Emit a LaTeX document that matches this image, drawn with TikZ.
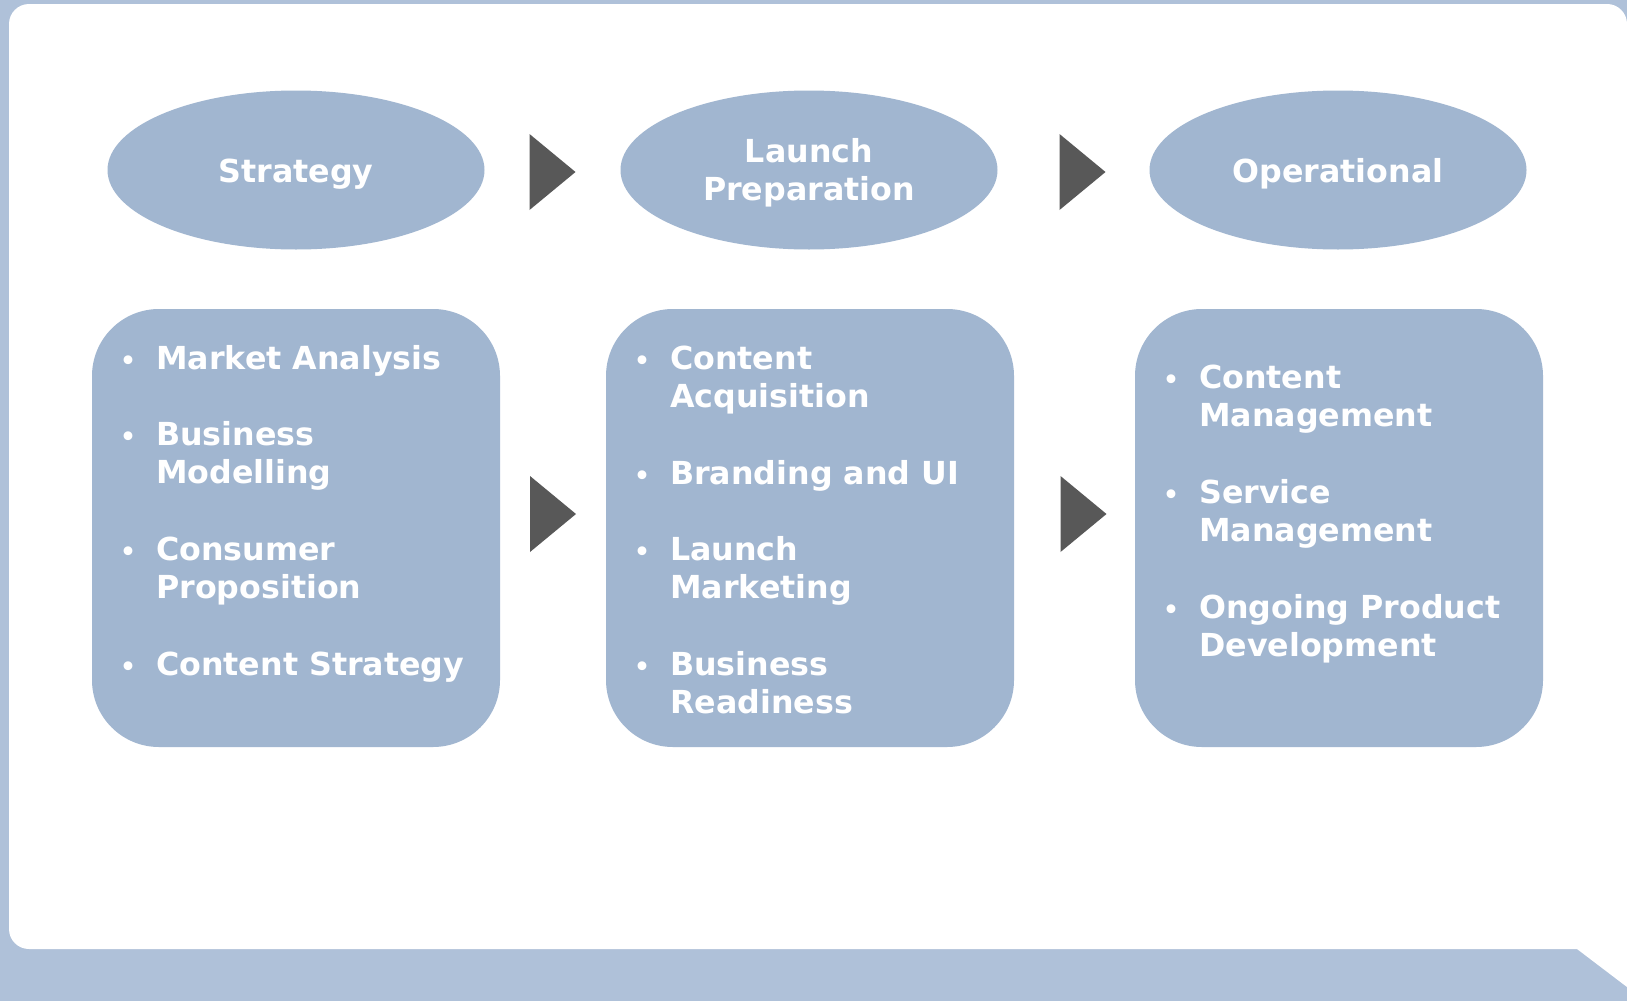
\documentclass[tikz,border=0pt]{standalone}
\usepackage{fontspec}
\setmainfont{DejaVu Sans}
\usetikzlibrary{shapes.geometric,calc}
\definecolor{bgblue}{HTML}{AFC1D9}
\definecolor{shapeblue}{HTML}{A1B6D0}
\definecolor{arrowgray}{HTML}{585858}
\newcommand\arrowtri[1]{\fill[tri] ($(#1)+(-23,-38)$) -- ($(#1)+(23,0)$) -- ($(#1)+(-23,38)$) -- cycle;}
\begin{document}
\begin{tikzpicture}[x=1pt,y=-1pt,
  phase/.style={ellipse, fill=shapeblue, minimum width=377pt, minimum height=159pt, inner sep=0pt},
  phasetext/.style={inner sep=0pt, text=white, font=\bfseries\fontsize{31.7}{38.3}\selectfont, align=center},
  panel/.style={rectangle, rounded corners=67pt, fill=shapeblue, minimum width=408pt, minimum height=438pt, inner sep=0pt},
  item/.style={anchor=base west, inner sep=0pt, text=white, font=\bfseries\fontsize{31.7}{38.3}\selectfont},
  dot/.style={anchor=base, inner sep=0pt, text=white, font=\bfseries\fontsize{25}{38.3}\selectfont},
  tri/.style={fill=arrowgray}]
\useasboundingbox (0,0) rectangle (1627,1001);
\fill[bgblue] (0,0) rectangle (1627,1001);
\fill[white] (1577,949) -- (1627,987) -- (1627,500) [rounded corners=20pt] -- (1627,4) -- (9,4) -- (9,949) [sharp corners] -- cycle;

\node[phase] (p1) at (296,170) {};
\node[phase] (p2) at (809,170) {};
\node[phase] (p3) at (1338,170) {};
\node[phasetext] (p1t) at ($(p1.center)+(0,4)$) {Strategy};
\node[phasetext] (p2t) at ($(p2.center)+(0,3)$) {Launch\\Preparation};
\node[phasetext] (p3t) at ($(p3.center)+(0,4)$) {Operational};

\node[panel] (b1) at (296,528) {};
\node[panel] (b2) at (810,528) {};
\node[panel] (b3) at (1339,528) {};

\coordinate (t1) at ($($(p1.east)!0.5!(p2.west)$)+(0,2)$);
\coordinate (t2) at ($($(p2.east)!0.5!(p3.west)$)+(9,2)$);
\coordinate (t3) at ($($(b1.east)!0.5!(b2.west)$)+(0,-14)$);
\coordinate (t4) at ($($(b2.east)!0.5!(b3.west)$)+(9,-14)$);
\arrowtri{t1}
\arrowtri{t2}
\arrowtri{t3}
\arrowtri{t4}

% left box
\node[dot] (d11) at (128,369) {•};
\node[item] (l11) at (156,369) {Market Analysis};
\node[dot] (d12) at (128,445.6) {•};
\node[item] (l12a) at (156,445.6) {Business};
\node[item] (l12b) at (156,483.9) {Modelling};
\node[dot] (d13) at (128,560.5) {•};
\node[item] (l13a) at (156,560.5) {Consumer};
\node[item] (l13b) at (156,598.8) {Proposition};
\node[dot] (d14) at (128,675.4) {•};
\node[item] (l14) at (156,675.4) {Content Strategy};

% middle box
\node[dot] (d21) at (642,369) {•};
\node[item] (l21a) at (670,369) {Content};
\node[item] (l21b) at (670,407.3) {Acquisition};
\node[dot] (d22) at (642,484) {•};
\node[item] (l22) at (670,484) {Branding and UI};
\node[dot] (d23) at (642,560.5) {•};
\node[item] (l23a) at (670,560.5) {Launch};
\node[item] (l23b) at (670,598.8) {Marketing};
\node[dot] (d24) at (642,675.4) {•};
\node[item] (l24a) at (670,675.4) {Business};
\node[item] (l24b) at (670,713.7) {Readiness};

% right box
\node[dot] (d31) at (1171,388) {•};
\node[item] (l31a) at (1199,388) {Content};
\node[item] (l31b) at (1199,426.3) {Management};
\node[dot] (d32) at (1171,503) {•};
\node[item] (l32a) at (1199,503) {Service};
\node[item] (l32b) at (1199,541.3) {Management};
\node[dot] (d33) at (1171,618) {•};
\node[item] (l33a) at (1199,618) {Ongoing Product};
\node[item] (l33b) at (1199,656.2) {Development};
\end{tikzpicture}
\end{document}
